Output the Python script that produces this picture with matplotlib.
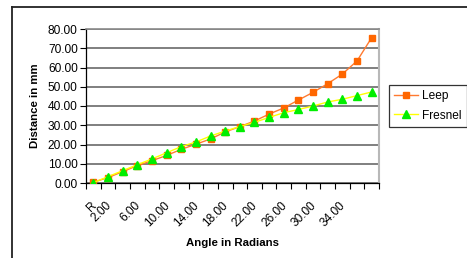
"""Leep vs Fresnel: distance against angle (category line chart)."""
import numpy as np
import matplotlib.pyplot as plt
import matplotlib.transforms as mtransforms
from matplotlib.lines import Line2D

# Data
angle_cats = ['R'] + [f'{v:.2f}' for v in range(2, 40, 2)]
label_idx = [0, 1, 3, 5, 7, 9, 11, 13, 15, 17]
leep = [0.4, 2.8, 5.9, 9.0, 11.6, 14.3, 17.5, 20.1, 22.9, 26.5,
        29.3, 32.2, 35.8, 39.0, 43.1, 47.1, 51.6, 56.6, 63.4, 75.5]
fresnel = [0.2, 3.3, 6.4, 9.5, 12.5, 15.7, 18.9, 21.3, 24.4, 27.0,
           29.3, 31.5, 34.1, 36.5, 38.2, 40.0, 42.1, 43.5, 45.4, 47.3]
y_ticks = [0, 10, 20, 30, 40, 50, 60, 70, 80]

plt.rcParams.update({'font.family': 'Liberation Sans', 'font.size': 8.6})

fig = plt.figure(figsize=(4.67, 2.58), dpi=100)
ax = fig.add_axes([86 / 467, 75 / 258, 293 / 467, 154 / 258])

x = np.arange(len(angle_cats))
ax.plot(x, leep, color='#FF7A30', lw=1.0, marker='s', ms=4.5,
        mfc='#FF6600', mec='#FF6600', label='Leep', zorder=3)
ax.plot(x, fresnel, color='#FFFF00', lw=1.0, marker='^', ms=5.5,
        mfc='#00EE00', mec='#00EE00', label='Fresnel', zorder=4)

ax.set_xlim(-0.5, len(angle_cats) - 0.5)
ax.set_ylim(0, 80)
ax.set_yticks(y_ticks)
ax.set_yticklabels([f'{v:.2f}' for v in y_ticks])
ax.yaxis.grid(True, color='#6A6A6A', lw=1.2)
ax.set_axisbelow(True)

# ticks between categories, labels at category centres
ax.set_xticks(np.arange(-0.5, len(angle_cats), 1.0))
ax.set_xticklabels([])
ax.set_xticks(label_idx, minor=True)
ax.set_xticklabels([angle_cats[i] for i in label_idx], minor=True,
                   rotation=45, ha='right', rotation_mode='anchor')
ax.tick_params(axis='x', which='major', length=4, width=0.8, direction='out')
ax.tick_params(axis='x', which='minor', length=0, pad=12)
ax.tick_params(axis='y', length=4, width=0.8, pad=2)
shift = mtransforms.ScaledTranslation(-3 / 100, 0, fig.dpi_scale_trans)
for lab in ax.get_xticklabels(minor=True):
    lab.set_transform(lab.get_transform() + shift)

for s in ['top', 'right']:
    ax.spines[s].set_color('#B8B8B8')
    ax.spines[s].set_linewidth(1.5)
ax.spines['top'].set_color('#8A8A8A')
ax.spines['top'].set_linewidth(1.2)
ax.spines['left'].set_linewidth(0.9)
ax.spines['bottom'].set_linewidth(0.9)

ax.set_xlabel('Angle in Radians', fontweight='bold', fontsize=8.2, labelpad=6)
ax.set_ylabel('Distance in mm', fontweight='bold', fontsize=8.2, labelpad=6)

leg = ax.legend(loc='upper left', bbox_to_anchor=(389 / 467, 1 - 85 / 258),
                bbox_transform=fig.transFigure, frameon=True, fancybox=False,
                borderpad=0.45, handlelength=2.0, labelspacing=0.6,
                handletextpad=0.3, borderaxespad=0)
leg.get_frame().set_edgecolor('black')
leg.get_frame().set_linewidth(0.9)

# chart-area border (top and left edges only visible)
fig.add_artist(Line2D([12 / 467, 1], [1 - 7 / 258, 1 - 7 / 258],
                      transform=fig.transFigure, color='#222222', lw=1.3))
fig.add_artist(Line2D([12 / 467, 12 / 467], [0, 1 - 7 / 258],
                      transform=fig.transFigure, color='#222222', lw=1.3))

plt.savefig('out.png', dpi=100)
